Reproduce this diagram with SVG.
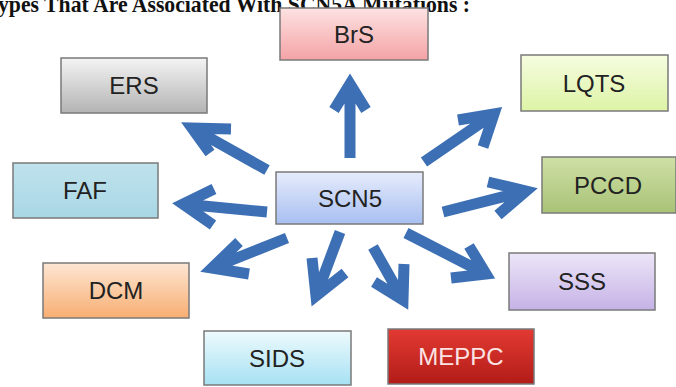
<svg xmlns="http://www.w3.org/2000/svg" width="676" height="387" viewBox="0 0 676 387">
<defs>
<linearGradient id="gBrS" x1="0" y1="0" x2="0" y2="1"><stop offset="0" stop-color="#fde2e2"/><stop offset="1" stop-color="#f4a3a6"/></linearGradient>
<linearGradient id="gERS" x1="0" y1="0" x2="0" y2="1"><stop offset="0" stop-color="#f4f4f4"/><stop offset="1" stop-color="#b3b3b3"/></linearGradient>
<linearGradient id="gLQTS" x1="0" y1="0" x2="0" y2="1"><stop offset="0" stop-color="#f6fde0"/><stop offset="1" stop-color="#ddf3a6"/></linearGradient>
<linearGradient id="gPCCD" x1="0" y1="0" x2="0" y2="1"><stop offset="0" stop-color="#cfe0a6"/><stop offset="1" stop-color="#a8c276"/></linearGradient>
<linearGradient id="gFAF" x1="0" y1="0" x2="0" y2="1"><stop offset="0" stop-color="#bfe2ec"/><stop offset="1" stop-color="#a9d7e5"/></linearGradient>
<linearGradient id="gSCN" x1="0" y1="0" x2="0" y2="1"><stop offset="0" stop-color="#e6ecfc"/><stop offset="1" stop-color="#a8bff1"/></linearGradient>
<linearGradient id="gDCM" x1="0" y1="0" x2="0" y2="1"><stop offset="0" stop-color="#fde6d3"/><stop offset="1" stop-color="#f8ae72"/></linearGradient>
<linearGradient id="gSIDS" x1="0" y1="0" x2="0" y2="1"><stop offset="0" stop-color="#eefafd"/><stop offset="1" stop-color="#a6e1f3"/></linearGradient>
<linearGradient id="gMEPPC" x1="0" y1="0" x2="0" y2="1"><stop offset="0" stop-color="#e23a32"/><stop offset="1" stop-color="#b31c18"/></linearGradient>
<linearGradient id="gSSS" x1="0" y1="0" x2="0" y2="1"><stop offset="0" stop-color="#ede6f8"/><stop offset="1" stop-color="#c5b2e6"/></linearGradient>
</defs>
<style>
.box{stroke:#7a7a7a;stroke-width:1.5}
.lbl{font-family:"Liberation Sans",Arial,sans-serif;font-size:24px;fill:#222;text-anchor:middle}
.arr{fill:none;stroke:#3d6fb4;stroke-width:11;stroke-linejoin:miter;stroke-linecap:butt}
.title{font-family:"Liberation Serif","Times New Roman",serif;font-size:23px;font-weight:bold;fill:#111}
</style>
<rect width="676" height="387" fill="#ffffff"/>
<text class="title" x="-2" y="12" textLength="472" lengthAdjust="spacingAndGlyphs">ypes That Are Associated With SCN5A Mutations   :</text>
<g id="connectors">
<path class="arr" d="M350 158 V84 M334 110 L350 84 L366 110"/>
<path class="arr" d="M267 170 L192 128 M231 129 L192 128 L210 153"/>
<path class="arr" d="M267 212 L183 204 M214 189 L183 204 L213 225"/>
<path class="arr" d="M287 238 L212 268 M239 242 L212 268 L249 274"/>
<path class="arr" d="M340 232 L316 296 M312 258 L316 296 L345 273"/>
<path class="arr" d="M373 247 L403 300 M374 282 L403 300 L404 264"/>
<path class="arr" d="M406 233 L486 274 M469 246 L486 274 L451 278"/>
<path class="arr" d="M443 212 L526 191 M488 182 L526 191 L498 215"/>
<path class="arr" d="M424 162 L494 114 M458 120 L494 114 L483 147"/>
</g>
<g id="BrS"><rect class="box" x="280" y="8" width="148" height="52" fill="url(#gBrS)"/><text class="lbl" x="354" y="43">BrS</text></g>
<g id="ERS"><rect class="box" x="61" y="58" width="146" height="55" fill="url(#gERS)"/><text class="lbl" x="134" y="94">ERS</text></g>
<g id="LQTS"><rect class="box" x="521" y="55" width="147" height="56" fill="url(#gLQTS)"/><text class="lbl" x="594" y="92">LQTS</text></g>
<g id="FAF"><rect class="box" x="13" y="163" width="145" height="55" fill="url(#gFAF)"/><text class="lbl" x="85" y="199">FAF</text></g>
<g id="SCN5"><rect class="box" x="276" y="172" width="147" height="52" fill="url(#gSCN)"/><text class="lbl" x="350" y="207">SCN5</text></g>
<g id="PCCD"><rect class="box" x="542" y="157" width="134" height="56" fill="url(#gPCCD)"/><text class="lbl" x="608" y="194">PCCD</text></g>
<g id="DCM"><rect class="box" x="43" y="263" width="146" height="55" fill="url(#gDCM)"/><text class="lbl" x="116" y="299">DCM</text></g>
<g id="SSS"><rect class="box" x="509" y="253" width="146" height="57" fill="url(#gSSS)"/><text class="lbl" x="582" y="290">SSS</text></g>
<g id="SIDS"><rect class="box" x="204" y="331" width="147" height="54" fill="url(#gSIDS)"/><text class="lbl" x="277" y="367">SIDS</text></g>
<g id="MEPPC"><rect class="box" x="388" y="329" width="146" height="55" fill="url(#gMEPPC)" stroke="#8a2a28"/><text class="lbl" x="461" y="365" style="fill:#fbe3e3">MEPPC</text></g>
</svg>
